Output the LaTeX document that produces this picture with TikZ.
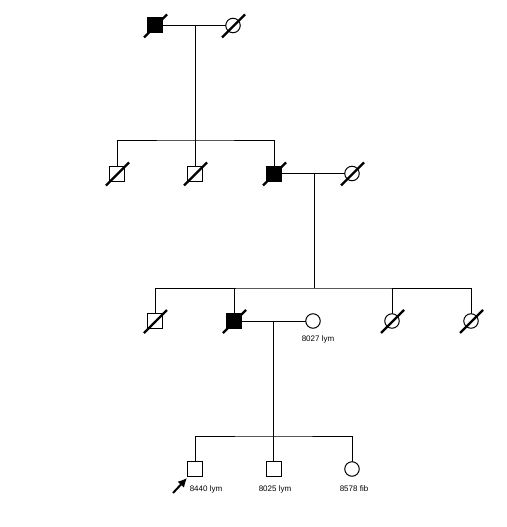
\documentclass[tikz,border=0pt]{standalone}
\usepackage{fontspec}
\setmainfont{Liberation Sans}
\usetikzlibrary{arrows.meta}
\newcommand\deadmark[1]{\draw[slash] ([shift={(-11,12)}]#1.center) -- ([shift={(12,-11)}]#1.center);}
\begin{document}
\begin{tikzpicture}[x=1pt,y=-1pt,
  male/.style={draw, line width=1pt, rectangle, minimum size=15pt, inner sep=0pt, fill=white},
  female/.style={draw, line width=1pt, circle, minimum size=14.5pt, inner sep=0pt, fill=white},
  aff/.style={fill=black},
  rel/.style={line width=1pt},
  slash/.style={line width=2.2pt},
  lbl/.style={font=\fontsize{8}{9.5}\selectfont, inner sep=0pt, anchor=center}]
\useasboundingbox[fill=white] (0,0) rectangle (506,527);
% junction coordinates
\coordinate (m1) at (195,25.5);
\coordinate (s1) at (195,140);
\coordinate (m2) at (314,173.5);
\coordinate (s2) at (314,288);
\coordinate (m3) at (273.5,321);
\coordinate (s3) at (273.5,436);
% lines
\draw[rel] (155,25.5) -- (233,25.5);
\draw[rel] (m1) -- (s1);
\draw[rel] (117,173.5) |- (s1) -| (274,173.5);
\draw[rel] (195,173.5) -- (195,140);
\draw[rel] (274,173.5) -- (352,173.5);
\draw[rel] (m2) -- (s2);
\draw[rel] (155,321) |- (s2) -| (471,321);
\draw[rel] (234,288) -- (234,321);
\draw[rel] (392,288) -- (392,321);
\draw[rel] (234,321) -- (313,321);
\draw[rel] (m3) -- (s3);
\draw[rel] (195,469) |- (s3) -| (352,469);
\draw[rel] (273.5,436) -- (273.5,469);
% generation I
\node[male, aff] (g1a) at (155,25.5) {};
\node[female] (g1b) at (233,25.5) {};
% generation II
\node[male] (g2a) at (117,173.5) {};
\node[male] (g2b) at (195,173.5) {};
\node[male, aff] (g2c) at (274,173.5) {};
\node[female] (g2d) at (352,173.5) {};
% generation III
\node[male] (g3a) at (155,321) {};
\node[male, aff] (g3b) at (234,321) {};
\node[female] (g3c) at (313,321) {};
\node[female] (g3d) at (392,321) {};
\node[female] (g3e) at (471,321) {};
% generation IV
\node[male] (g4a) at (195,469) {};
\node[male] (g4b) at (273.5,469) {};
\node[female] (g4c) at (352,469) {};
% deceased marks
\deadmark{g1a}
\deadmark{g1b}
\deadmark{g2a}
\deadmark{g2b}
\deadmark{g2c}
\deadmark{g2d}
\deadmark{g3a}
\deadmark{g3b}
\deadmark{g3d}
\deadmark{g3e}
% labels
\node[lbl] (l3c) at (318,339) {8027 lym};
\node[lbl] (l4a) at (206,489) {8440 lym};
\node[lbl] (l4b) at (275,489) {8025 lym};
\node[lbl] (l4c) at (354,489) {8578 fib};
% proband arrow
\coordinate (ptail) at (173,493);
\draw[line width=2pt, -{Latex[length=9pt,width=9pt]}] (ptail) -- ([shift={(-8,9)}]g4a.center);
\end{tikzpicture}
\end{document}
